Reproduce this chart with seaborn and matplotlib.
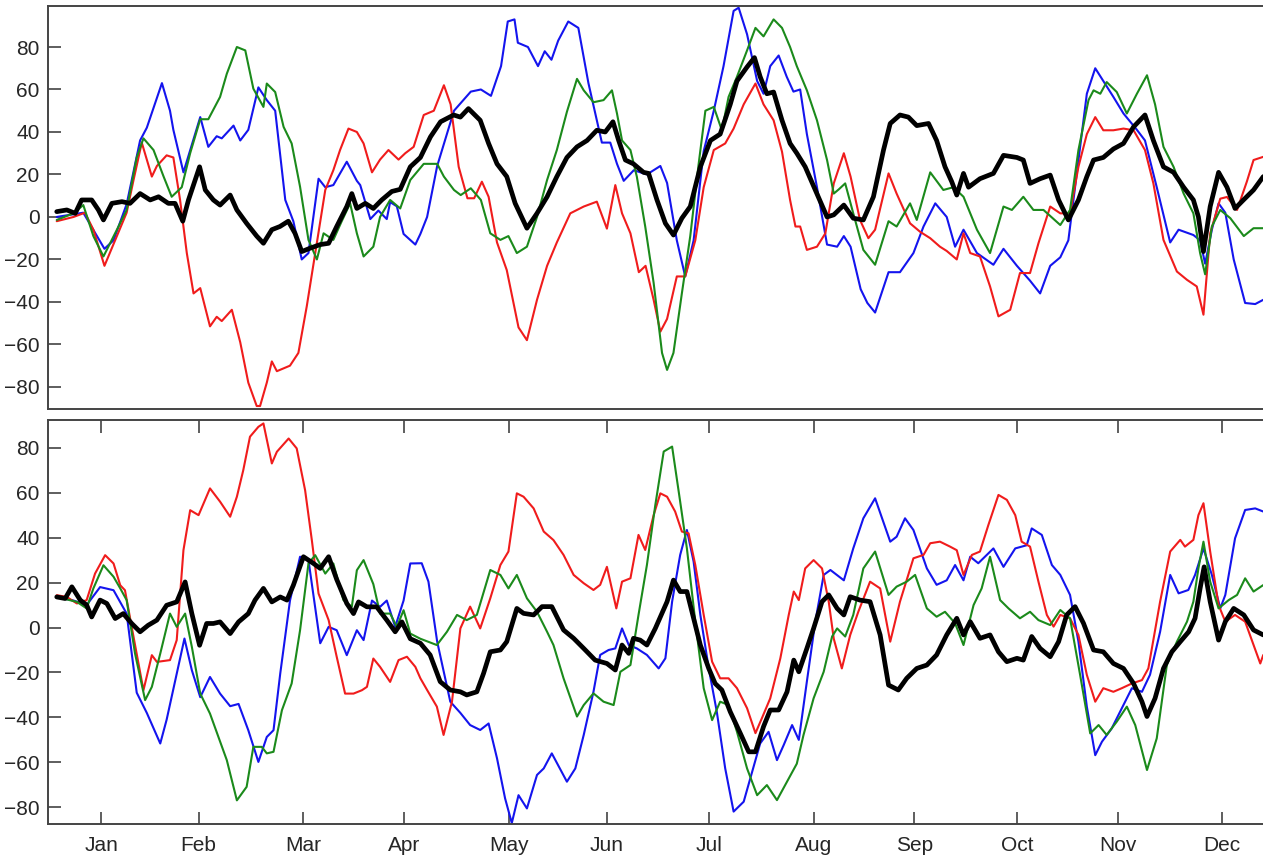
import pandas as pd
import matplotlib
matplotlib.use("Agg")
import matplotlib.pyplot as plt
import seaborn as sns

# (day of year, value)
TOP_BLUE = [(1.8, 0), (9.7, 2), (16, -15), (18.7, -11), (22.6, 6), (26.6, 36), (28.6, 42), (33.1, 63),
            (35.5, 50), (36.5, 41), (39.5, 21), (44.5, 47), (46.9, 33), (49.4, 38), (50.9, 37), (54.4, 43),
            (56.4, 36), (58.8, 41), (61.8, 61), (64.3, 55), (66.8, 50), (69.8, 8), (72.2, -2), (74.7, -20),
            (76.7, -17), (79.7, 18), (81.7, 14), (84.1, 15), (88.1, 26), (91.1, 17), (92.1, 15), (95.1, -1),
            (97.5, 3), (100, -1), (101, 7), (103, 5), (105, -8), (108.5, -13), (110, -8), (112, 0), (115, 24),
            (120, 50), (125, 59), (128, 60), (131, 57), (134, 71), (136, 92), (138, 93), (139, 82), (142, 80),
            (145, 71), (147, 78), (149, 74), (151, 83), (154, 92), (157, 89), (160, 63), (163, 42), (164, 35),
            (166.5, 35), (168.5, 25), (170.5, 17), (173.5, 22), (177.4, 20), (181.4, 24), (183.4, 16),
            (186.3, -11), (188.8, -28), (191.3, -11), (194.3, 31), (197.3, 50), (200.2, 71), (203.2, 97),
            (204.7, 98.5), (207.2, 86), (210.2, 64), (212.1, 58), (214.1, 71), (216.6, 76), (219, 66),
            (221, 59), (223, 60), (225, 39), (228, 14), (231, -13), (234, -14), (236, -9), (238, -14),
            (241, -34), (243, -40.5), (245.3, -45), (249.3, -26), (252.7, -26), (256.7, -17), (259.7, -4.5),
            (263.2, 6.4), (266.6, 0), (269.1, -14), (271.6, -6), (275.6, -17), (280.5, -22.5), (283.5, -15),
            (287.5, -23), (291.4, -30), (294.4, -36), (297.4, -23), (300.4, -19), (302.8, -11), (305.3, 20.5),
            (308.3, 58), (310.8, 70), (313.2, 64), (316.2, 56.5), (319.2, 48.7), (323.2, 41), (325.6, 36),
            (329.1, 14), (333.1, -12), (335.6, -6), (340, -8.5), (342, -11), (343.5, -22), (345.5, -6),
            (347.5, 6.4), (349.5, 2), (352, -20), (355.4, -40.5), (358.4, -41), (360.8, -39)]

TOP_RED = [(1.8, -2), (6.8, 0), (10.2, 2), (12.7, -6), (16, -23), (19.7, -9), (22.6, 2), (24.6, 17),
           (27.1, 35), (30.1, 19), (31.6, 24), (34.5, 29), (36.5, 28), (38.5, 8), (40.5, -17), (42.5, -36),
           (44.5, -33.5), (47.4, -51.5), (49.4, -47), (50.9, -49), (53.9, -43.7), (56.4, -59), (58.8, -78),
           (61.3, -89), (62.3, -89), (64.3, -78), (65.8, -68), (67.3, -72.6), (71.2, -70), (73.7, -64),
           (76.2, -42), (78.7, -17), (81.7, 12.7), (84.1, 22), (86.1, 31.5), (88.6, 41.6), (91.1, 40),
           (93.1, 34.6), (95.6, 21), (98, 27), (100.5, 31.5), (103.5, 27), (105.5, 30), (108, 33), (111, 48),
           (114, 50), (117, 62), (119, 53), (121.4, 23.6), (124, 8.8), (126, 8.8), (128.3, 16.6), (130.3, 9.5),
           (132.8, -12), (135.7, -25), (139.2, -52), (141.7, -58), (144.7, -39), (147.7, -23), (150.6, -12),
           (154.6, 1.7), (158.6, 4.9), (162.5, 7.2), (165.5, -5.5), (168, 15), (170, 1.7), (172.5, -7.7),
           (175, -26), (177, -23), (179.4, -39), (181.4, -54), (183.4, -48), (186.3, -28), (188.8, -28),
           (191.8, -11), (194.3, 14), (197.3, 31.5), (200.7, 34.6), (203.2, 41.6), (206.2, 53), (209.7, 62.8),
           (212.1, 53), (215.1, 45.5), (217.6, 30.7), (220, 8), (221.6, -4.5), (223, -4.5), (225, -15.5),
           (228, -14), (230.5, -7.7), (233, 15.8), (236, 30), (238, 19), (240.8, -1.4), (243.3, -10),
           (245.3, -6), (249.3, 20.5), (251.7, 11), (255.7, -3), (258.7, -7), (261.7, -10), (264.6, -14),
           (266.6, -16), (269.6, -20), (271.6, -7.7), (273.6, -17), (276.5, -18.6), (279.5, -32.7),
           (282, -46.8), (285.5, -43.7), (288.4, -26.4), (291.4, -26.4), (293.9, -12.4), (297.4, 4.9),
           (300.4, 1.7), (303.3, 1.7), (305.8, 23.6), (308.3, 39), (310.8, 47), (313.2, 40.8), (316.2, 40.8),
           (319.2, 41.6), (322.2, 40.8), (325.6, 31.5), (328.1, 15.8), (331.1, -10.8), (335.1, -25.7),
           (338.1, -29.6), (341, -32.7), (343, -46), (345, -7.7), (348, 8.6), (350, 9.4), (353, 3.3),
           (355.9, 16.6), (357.9, 26.8), (360.8, 28.3)]

TOP_GREEN = [(1.8, -1.4), (6.8, 1.7), (9.7, 5.6), (12.7, -9), (15.7, -18.6), (19.7, -6), (22.6, 3.3),
             (25.6, 28), (27.6, 37), (30.6, 31.5), (33.6, 19), (36, 9.5), (39, 14), (41.5, 30), (44.5, 46),
             (46.9, 46), (50.4, 56.5), (52.4, 67.4), (55.4, 80), (57.9, 78.4), (60.3, 60.4), (63.3, 51.8),
             (64.3, 62.8), (66.8, 58.8), (69.3, 42.4), (71.7, 34.6), (74.2, 14.2), (76.7, -10.8), (79.2, -20),
             (81.2, -7.7), (84.1, -10.8), (86.6, -2), (89.1, 6.4), (91.1, -7.7), (93.1, -18.6), (96, -14),
             (98, 0), (101, 8), (104, 4), (107, 17.4), (111, 25), (115, 25), (117, 19), (120, 12.7),
             (122, 10.3), (125, 13.5), (128, 8), (130.8, -7.7), (133.8, -10.8), (136.2, -9), (138.7, -17),
             (141.7, -14), (144.7, 0), (147.7, 17.4), (150.6, 31.5), (153.6, 49.5), (156.6, 65),
             (158.6, 59.6), (161.5, 54), (164.5, 55), (167, 59.6), (168.5, 48.7), (170, 36), (172.5, 31.5),
             (174.4, 19), (176.9, -4.5), (179.4, -31), (181.9, -64), (183.4, -72), (185.3, -64),
             (187.8, -36), (190.3, -9), (192.8, 25), (194.8, 50), (197.3, 51.8), (199.7, 40.8),
             (201.7, 56.5), (204.2, 66), (207.2, 78.4), (209.7, 89), (212.1, 85), (215.1, 93), (217.6, 89),
             (220, 80), (222, 71), (225, 59.6), (228, 45.5), (231, 26.8), (233, 11), (234.5, 13),
             (236.4, 15.8), (238.8, 1.7), (241.8, -15.5), (245.3, -22.5), (249.3, -2), (251.7, -4.5),
             (255.7, 6.4), (257.7, -1.4), (261.7, 21), (265.6, 12.7), (268.6, 14), (271.6, 9.5),
             (275.6, -6), (279.5, -17), (283.5, 4.9), (286, 3.3), (289.4, 9.5), (292.4, 3.3), (295.4, 3.3),
             (300.4, -3.8), (303.3, 3.3), (305.8, 31.5), (308.8, 55), (310.3, 59.6), (312.3, 58),
             (314.2, 63.5), (317.2, 58.8), (320.2, 48.7), (323.2, 58), (326.2, 66.7), (328.6, 53),
             (331.1, 33), (334.1, 23.6), (337.1, 11), (340, 1.7), (342, -17), (343.5, -27), (345.5, -4.5),
             (348, 3.3), (351, -0.6), (355, -9), (357.9, -5.3), (360.8, -5.3)]

TOP_BLACK = [(1.8, 2.5), (4.8, 3.3), (7.3, 1.7), (9.2, 8), (12.2, 8), (14.2, 3.3), (15.7, -1.4), (18.2, 6.4),
             (21.2, 7.2), (23.6, 6.4), (26.6, 11), (29.6, 8), (32.1, 9.5), (35, 6.4), (37, 6.4), (39.3, -2),
             (41, 8), (44.3, 23.6), (46, 12.7), (48.4, 8), (50.4, 5.6), (53.4, 10.3), (55.4, 3.3), (58.3, -3),
             (61.3, -9), (63.3, -12.4), (65.8, -6), (68.2, -4.5), (70.7, -2), (72.7, -7.7), (74.7, -16.3),
             (77.2, -14.7), (80.2, -13), (82.7, -12.4), (85.1, -4.5), (88.1, 4.9), (89.6, 11), (91.1, 4),
             (93.6, 6.4), (96, 4), (98.5, 8), (101.5, 12), (104, 13), (107, 23.6), (110, 28), (113, 37.7),
             (116, 44.8), (119.9, 48), (121.9, 47), (124.3, 51), (127.8, 45.5), (130.3, 34.6), (132.8, 25),
             (135.7, 19), (138.2, 6.4), (141.7, -5.3), (144.7, 1.7), (147.7, 9.5), (150.6, 19), (153.6, 28),
             (156.6, 33), (159.6, 36), (162.5, 40.8), (165, 40), (167.3, 44.8), (169, 36), (171, 26.8),
             (173.4, 25), (176.4, 21), (177.9, 20.5), (180.4, 8), (182.9, -3), (185.3, -8.5), (187.8, -0.6),
             (190.3, 4.9), (193.3, 23.6), (196.3, 36), (199.2, 39), (202.2, 53), (204.2, 64), (207.2, 70.6),
             (209.4, 75), (211.1, 66), (213.1, 58), (215.1, 58.8), (217.6, 45.5), (220, 34.6), (222, 30),
             (224.5, 23.6), (227.5, 12.7), (231, 0), (233, 1), (236, 5.6), (238.8, -0.6), (241.8, -1.4),
             (244.8, 9.5), (247.8, 31.5), (249.8, 44), (252.7, 48), (255.2, 47), (257.7, 43), (261.2, 44),
             (263.6, 36), (266.1, 23.6), (268.1, 16.6), (269.6, 10.3), (271.6, 20.5), (273.1, 14),
             (276.5, 18), (280.5, 20.5), (283.5, 29), (287.5, 28), (289.4, 26.8), (291.4, 15.8), (294.4, 18),
             (297.4, 19.7), (299.9, 8), (302.8, -1.4), (305.8, 8), (308.3, 19), (310.3, 26.8), (313.2, 28),
             (316.2, 32), (319.2, 34.6), (322.2, 42.4), (325.6, 48), (328.1, 36), (331.1, 23.6), (334.1, 21),
             (337.1, 14), (340, 8), (341.5, 0), (343, -16.3), (345, 4.9), (347.5, 21), (350, 14), (352.4, 4),
             (354.9, 8), (357.9, 12.7), (360.8, 19)]

BOT_BLUE = [(1.8, 13.6), (6.8, 12), (10.7, 10), (14.7, 18), (18.7, 16.6), (22.6, 6.2), (25.6, -29),
            (28.6, -38), (32.6, -51.6), (34.5, -41), (37.5, -20.5), (39.8, -4.9), (42, -19), (44.5, -31),
            (47.4, -22), (50.4, -29.4), (53.4, -35), (55.9, -34), (58.8, -45.7), (61.8, -59.8), (64.3, -48.7),
            (66.3, -45.7), (68.3, -20.5), (71.2, 12), (74.2, 31.5), (76.7, 30), (80.2, -7), (82.7, 0.3),
            (85.1, -1.2), (88.1, -12.3), (91.1, -1.2), (93.1, -5.6), (95.6, 12), (98, 9.2), (100, 12),
            (102.5, 0.3), (105, 12), (107, 28.5), (110.4, 28.6), (112.4, 20.4), (115, -6.3), (118.9, -33),
            (121.9, -38), (124.8, -43.4), (127.8, -45.6), (130.3, -42.7), (132.8, -58.2), (135.2, -76),
            (137.2, -87), (139.2, -74.6), (141.7, -80.5), (144.7, -65.6), (146.7, -62.7), (149.1, -56),
            (153.6, -68.6), (156.1, -62.7), (158.6, -47.8), (161.5, -28.6), (163.5, -12.2), (166, -10),
            (168, -9.3), (170, -0.4), (172, -7.8), (174.4, -9.3), (177.4, -12.2), (180.9, -18.2),
            (182.9, -13.7), (184.9, 11.5), (187.3, 32.3), (189.3, 43.4), (191.3, 29.3), (193.3, 5.6),
            (195.8, -18.2), (198.2, -37.5), (200.7, -62.7), (203.2, -81.9), (206.2, -77.5), (208.2, -67),
            (211.1, -51.6), (213.6, -46.4), (216.1, -59), (218.1, -52.3), (220.6, -43.4), (222.6, -50),
            (225, -24), (227.5, 2.6), (230, 23.4), (232, 25.6), (236, 21), (238.8, 35.2), (241.8, 48.6),
            (245.3, 57.5), (249.8, 38.2), (251.7, 40.4), (254.2, 48.6), (256.7, 43.4), (260.7, 26.3),
            (263.6, 19), (266.6, 21), (269.1, 27.8), (271.6, 21), (273.6, 31.5), (276, 28.6), (280.5, 35.2),
            (283.5, 27), (287, 35.2), (290.4, 36.6), (291.9, 44.1), (294.9, 41.2), (297.9, 27.8),
            (300.4, 23.4), (303.3, 14.5), (305.8, -6.3), (308.3, -35.2), (310.8, -56.8), (312.8, -50.8),
            (315.7, -44.9), (318.7, -36), (321.7, -27), (324.7, -28.6), (327.1, -21), (330.1, -1.9),
            (333.1, 23.4), (335.6, 15.2), (338.5, 16.7), (340.5, 23.4), (343, 35.2), (345.5, 23.4),
            (348, 8.5), (349.5, 14.5), (352.4, 39.7), (355.4, 52.3), (358.4, 53), (360.8, 51.6)]

BOT_RED = [(1.8, 14.4), (4.8, 13.6), (7.8, 10.7), (10.7, 12.2), (13.2, 24), (16.2, 32.2), (18.7, 28.5),
           (20.7, 18.8), (22.1, 16.6), (24.1, 0.3), (27.6, -27.9), (30.1, -12.3), (31.6, -15.3), (35.5, -14.5),
           (37.5, -5.6), (39.5, 34.4), (41.5, 52.2), (44, 50), (45.5, 55.2), (47.4, 61.9), (50.4, 56),
           (53.4, 49.3), (55.4, 58.2), (57.3, 70), (59.3, 84.9), (61.8, 89.3), (63.3, 90.8), (65.8, 73),
           (67.3, 78.2), (70.8, 84.1), (73.2, 79.7), (75.7, 61.1), (77.7, 38.9), (79.7, 15.1), (82.7, 3.3),
           (85.1, -13), (87.6, -29.4), (90.1, -29.4), (92.6, -27.9), (94.1, -26.4), (96, -13.8), (98, -17.5),
           (101, -24.2), (103.5, -14.5), (106, -13), (108.5, -17.5), (110, -22.6), (112, -27.8),
           (114.9, -35.2), (116.9, -47.8), (119.4, -33), (121.9, -0.4), (124.8, 9.3), (127.8, -0.4),
           (130.8, 13), (133.8, 27.8), (136.2, 33.8), (138.7, 59.7), (140.7, 58.2), (143.7, 53),
           (146.7, 42.7), (149.6, 38.9), (152.6, 32.3), (155.6, 23.4), (158.6, 19.7), (161.5, 16.7),
           (163.5, 19), (165.5, 27), (168.3, 8.5), (170, 20.4), (172.5, 21.9), (174.9, 41.2), (176.9, 34.5),
           (179.4, 50), (181.4, 59.7), (183.4, 58.2), (185.8, 51.6), (187.8, 42.7), (189.8, 41.9),
           (191.8, 27.8), (194.3, 5.6), (196.8, -15.2), (199.2, -22.6), (201.7, -22.6), (204.2, -27),
           (207.2, -35.9), (209.7, -47), (211.6, -40.4), (214.1, -31.5), (217.1, -13.7), (219.6, 5.6),
           (221.1, 16), (222.6, 12.2), (224.5, 26.3), (227, 30), (229.5, 26.3), (231.5, 11.5), (233, -5),
           (235.4, -18.2), (237.9, -3.3), (240.3, 7), (243.8, 20.4), (246.8, 17.4), (249.8, -6.3),
           (252.7, 11.5), (256.7, 30.8), (259.7, 32.3), (261.7, 37.5), (264.6, 38.2), (267.6, 36),
           (269.6, 34.4), (271.6, 23.4), (274.1, 32.3), (276.5, 33.8), (279, 45.6), (282, 59), (284.5, 56.8),
           (287, 50), (288.9, 38.2), (291.4, 36), (293.9, 20.4), (296.4, 5.6), (298.4, 0.4), (300.4, 5.6),
           (303.3, 4.1), (305.8, -3.3), (308.3, -21.1), (310.8, -33), (313.2, -27), (316.2, -28.6),
           (318.7, -27), (321.7, -24.9), (324.7, -23.4), (326.6, -18.2), (330.1, 11.5), (333.1, 33.8),
           (336.1, 39), (337.5, 36), (340, 39), (341.5, 50), (343, 55.3), (345, 33.8), (347.5, 10),
           (349.5, 2.6), (352.4, 5.6), (355.4, 2.6), (357.9, -7.8), (359.9, -16), (360.8, -12.2)]

BOT_GREEN = [(1.8, 13.6), (7.8, 11.4), (10.7, 8.5), (12.7, 17.4), (15.7, 27.7), (18.7, 22.6), (20.7, 17.4),
             (22.6, 12.2), (25.1, -11.6), (28.1, -32.3), (30.1, -26.4), (32.6, -11.6), (35.5, 6.2),
             (37.5, 0.3), (40, 6.2), (42, -8.6), (44.5, -29.4), (47.4, -38.3), (49.9, -48.7), (52.4, -59),
             (55.4, -76.9), (58.3, -70.9), (60.3, -53.1), (62.8, -53.1), (64.3, -56), (66.3, -55.3),
             (68.8, -36.8), (71.7, -24.9), (74.2, -1.2), (76.7, 28.5), (78.7, 32.2), (81.7, 24), (84.1, 28.5),
             (87.1, 12.2), (89.6, 9.2), (91.1, 25.5), (93.1, 30), (96, 19.3), (98, 6.2), (101, 6.2),
             (103, 0.3), (105, 7.7), (107, -2.7), (110, -5), (114.9, -7.8), (117.9, -1.9), (120.9, 5.6),
             (123.8, 3.3), (126.8, 5.6), (130.8, 25.6), (133.8, 23.4), (136.2, 17.4), (138.7, 23.4),
             (141.7, 13), (144.7, 7), (147.7, -1.9), (149.6, -7.8), (152.6, -22.6), (156.6, -39.6),
             (158.6, -34.5), (161.5, -29.3), (164.5, -33), (167.5, -34.5), (169.5, -19.7), (172.5, -16.7),
             (174.9, 5.6), (177.4, 27.8), (179.9, 54.5), (182.4, 78.3), (184.9, 80.5), (187.3, 56),
             (189.3, 35.2), (191.8, 2.6), (194.3, -27), (196.8, -41.2), (199.2, -33), (201.7, -34.5),
             (204.2, -46.4), (207.2, -62.7), (210.2, -74.6), (213.1, -70.1), (216.1, -76.8), (219.1, -68.6),
             (222, -60.6), (224, -47.8), (227, -31.5), (230, -19.7), (232.5, -4), (234, -0.4), (236.4, -4),
             (238.8, 5.6), (241.8, 26.3), (245.3, 33.8), (249.3, 14.5), (251.7, 18.2), (254.7, 20.4),
             (257.2, 23.4), (260.7, 8.5), (263.6, 4.8), (266.1, 7), (269.1, 1.9), (271.6, -7.8), (274.6, 10),
             (277, 17.4), (279.5, 31.5), (282.5, 12.2), (285, 8.5), (288.4, 4.1), (291.4, 7), (293.9, 3.3),
             (297.4, 1.1), (300.4, 7.8), (303.3, 4.1), (306.3, -21.1), (309.3, -47.1), (311.8, -43.4),
             (314.2, -47.8), (317.2, -41.9), (320.2, -35.2), (322.7, -43.4), (326.2, -63.4), (329.1, -49.3),
             (332.1, -16.7), (335.1, -6.3), (338.1, 2.6), (340, 11.5), (341.5, 26.3), (343, 38.2), (345, 20.4),
             (347.5, 8.5), (350.5, 12.2), (353, 14.5), (355.4, 21.9), (357.9, 16), (360.8, 18.9)]

BOT_BLACK = [(1.8, 13.6), (4.3, 12.9), (6.3, 18.1), (8.8, 12.2), (10.7, 10), (12.2, 4.7), (14.7, 12.2),
             (16.7, 10.7), (19.2, 4), (21.6, 6.2), (24.1, 1.8), (26.6, -1.9), (29, 1), (31.6, 3.3), (34.5, 9.9),
             (37.5, 11.4), (40, 20.3), (42, 6.2), (44.3, -7.9), (46.4, 1.8), (48.4, 1.8), (50.4, 2.5),
             (53.4, -2.7), (55.9, 2.5), (58.8, 6.2), (60.8, 12.2), (63.3, 17.4), (65.8, 11.4), (68.3, 13.6),
             (70.3, 12.2), (72.2, 18.8), (75.2, 31.5), (78.2, 28.5), (80.2, 26.3), (82.7, 31.5), (85.1, 21.4),
             (88.1, 10.7), (90.1, 6.2), (91.6, 11.4), (94.1, 9.2), (97, 9.2), (100, 3.3), (102.5, -1.9),
             (104.5, 2.5), (107, -5), (110, -7), (112.9, -12.2), (115.9, -24.1), (118.9, -27.8),
             (121.9, -28.6), (123.8, -30), (126.8, -28.6), (128.8, -20.4), (130.8, -10.8), (133.8, -10),
             (135.7, -6.3), (138.7, 8.5), (140.7, 6.3), (143.7, 5.6), (146.2, 9.3), (149.1, 9.3),
             (152.6, -1.1), (155.6, -4.8), (158.6, -9.3), (162, -14.5), (165.5, -16), (168, -18.9),
             (170, -7.8), (172, -11.5), (173.4, -4.8), (175.4, -5.6), (177.4, -7.8), (179.9, -0.4),
             (183.4, 11.5), (185.3, 21.1), (187.3, 16), (189.3, 16), (191.3, 4.1), (193.3, -7.8),
             (195.8, -18.2), (197.7, -24.9), (199.7, -27.8), (202.2, -37.5), (205.2, -47.1), (207.7, -55.3),
             (209.7, -55.3), (212.1, -44.1), (214.1, -36.7), (216.6, -36.7), (219.1, -28.6), (221.1, -14.5),
             (222.6, -19.7), (225, -9.3), (227, -0.4), (229.5, 11.5), (231.5, 14.5), (234, 8.5), (236, 5.6),
             (237.9, 13.7), (240.8, 12.2), (243.8, 11.5), (246.8, -3.3), (249.3, -25.6), (252.2, -27.8),
             (254.7, -22.6), (257.7, -18.2), (260.7, -16.7), (263.6, -12.2), (266.6, -3.3), (269.6, 4.1),
             (271.6, -3.3), (273.6, 2.6), (276.5, -4.8), (279.5, -3.3), (282, -10.8), (284.5, -15.2),
             (287.5, -13.7), (289.4, -14.5), (291.9, -4), (294.4, -9.3), (297.4, -13), (299.9, -6.3),
             (302.3, 5.6), (304.8, 9.3), (307.3, 1.9), (310.3, -10), (313.2, -10.8), (316.2, -16),
             (319.2, -18.2), (322.2, -24.9), (324.7, -33), (326.2, -39.6), (328.6, -31.5), (331.1, -18.2),
             (333.6, -10.8), (336.1, -6.3), (338.6, -1.9), (340.5, 4.1), (342, 17.4), (343.2, 27), (345, 11.5),
             (347.5, -5.6), (349.5, 2.6), (352, 8.5), (355, 5.6), (357.9, -1.1), (360.8, -3.3)]

MONTHS = ["Jan", "Feb", "Mar", "Apr", "May", "Jun", "Jul", "Aug", "Sep", "Oct", "Nov", "Dec"]
MONTH_DAYS = [15, 44, 75, 105, 136.5, 165.5, 196, 227, 257, 287.5, 317.5, 348.5]

COLORS = {"blue": "#1414ee", "red": "#f01c1c", "green": "#1b8a1b", "black": "#000000"}
WIDTHS = {"blue": 1.5, "red": 1.5, "green": 1.5, "black": 3.4}


def to_frame(panel):
    rows = []
    for name, pts in panel.items():
        for d, v in pts:
            rows.append({"day": d, "value": v, "series": name})
    return pd.DataFrame(rows)


sns.set_style("white")
plt.rcParams["font.family"] = ["Liberation Sans", "DejaVu Sans"]

fig = plt.figure(figsize=(12.63, 8.60), dpi=100)
W, H = 1263, 860
left, right = 48, 1277.4
ax_top = fig.add_axes([left / W, (H - 409) / H, (right - left) / W, 403 / H])
ax_bot = fig.add_axes([left / W, (H - 823.5) / H, (right - left) / W, 403.2 / H])

panels = [
    (ax_top, {"blue": TOP_BLUE, "red": TOP_RED, "green": TOP_GREEN, "black": TOP_BLACK}, (-90.4, 99.3)),
    (ax_bot, {"blue": BOT_BLUE, "red": BOT_RED, "green": BOT_GREEN, "black": BOT_BLACK}, (-87.2, 92.2)),
]

for ax, panel, ylim in panels:
    df = to_frame(panel)
    sns.lineplot(data=df, x="day", y="value", hue="series", size="series",
                 hue_order=list(COLORS), palette=COLORS, sizes=WIDTHS,
                 estimator=None, legend=False, ax=ax)
    ax.set_xlim(-0.8, 365)
    ax.set_ylim(*ylim)
    ax.set_xlabel("")
    ax.set_ylabel("")
    ax.set_yticks([-80, -60, -40, -20, 0, 20, 40, 60, 80])
    ax.tick_params(axis="y", direction="in", length=9, width=1.1, color="#333",
                   labelsize=15, pad=6, left=True, right=False)
    for s in ax.spines.values():
        s.set_color("#444")
        s.set_linewidth(1.4)

ax_top.tick_params(axis="x", bottom=False, top=False, labelbottom=False)
ax_bot.set_xticks(MONTH_DAYS)
ax_bot.set_xticklabels(MONTHS)
ax_bot.tick_params(axis="x", direction="in", length=9, width=1.1, color="#333",
                   labelsize=15, pad=9, bottom=True, top=True)

fig.savefig("out.png", dpi=100)
